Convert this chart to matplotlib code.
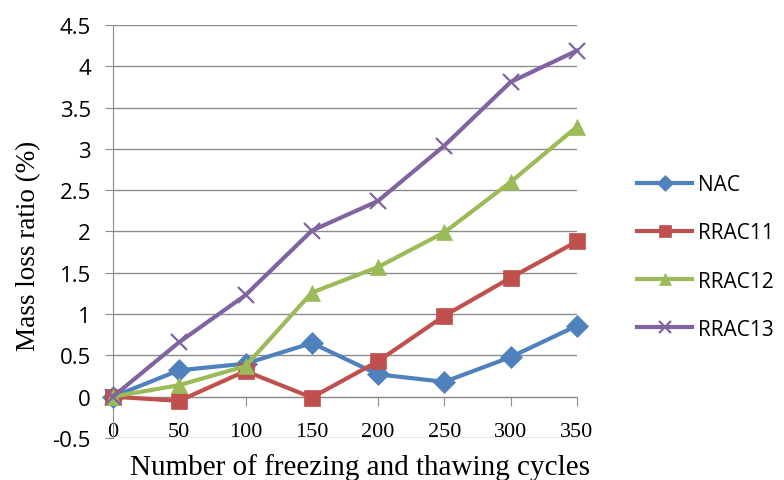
import matplotlib.pyplot as plt

# =========================
# data
# =========================
cycles = [0, 50, 100, 150, 200, 250, 300, 350]
nac = [0, 0.32, 0.40, 0.65, 0.27, 0.18, 0.48, 0.86]
rrac11 = [0, -0.05, 0.31, -0.01, 0.43, 0.98, 1.44, 1.88]
rrac12 = [0, 0.14, 0.37, 1.26, 1.57, 1.99, 2.60, 3.27]
rrac13 = [0, 0.66, 1.23, 2.01, 2.37, 3.04, 3.81, 4.19]
y_ticks = [-0.5, 0, 0.5, 1, 1.5, 2, 2.5, 3, 3.5, 4, 4.5]
y_labels = ['-0.5', '0', '0.5', '1', '1.5', '2', '2.5', '3', '3.5', '4', '4.5']

series = [
    ('NAC', nac, '#4F81BD', 'D', 11),
    ('RRAC11', rrac11, '#C0504D', 's', 11),
    ('RRAC12', rrac12, '#9BBB59', '^', 12),
    ('RRAC13', rrac13, '#8064A2', 'x', 12),
]

# =========================
# plot
# =========================
fig = plt.figure(figsize=(7.84, 4.81), dpi=100)
ax = fig.add_axes([0.144, 0.0873, 0.592, 0.8587])

for name, vals, col, mk, ms in series:
    ax.plot(cycles, vals, color=col, lw=3, marker=mk, markersize=ms,
            markeredgewidth=1.6 if mk == 'x' else 0.5, markeredgecolor=col,
            label=name, clip_on=False, zorder=3)

ax.set_xlim(0, 350)
ax.set_ylim(-0.5, 4.5)
ax.set_yticks(y_ticks)
ax.set_yticklabels(y_labels)
ax.set_xticks(cycles)
ax.grid(axis='y', color='#8c8c8c', lw=1)
ax.set_axisbelow(True)

for s in ['top', 'right']:
    ax.spines[s].set_visible(False)
ax.spines['left'].set_color('#8c8c8c')
ax.spines['bottom'].set_color('#8c8c8c')
ax.spines['bottom'].set_position(('data', 0))

ax.tick_params(axis='y', length=5.8, color='#8c8c8c', labelsize=16, pad=10)
ax.tick_params(axis='x', length=6.5, color='#8c8c8c', pad=12)
for lab in ax.get_yticklabels():
    lab.set_fontfamily('Open Sans')
for lab in ax.get_xticklabels():
    lab.set_fontfamily('Liberation Serif')
    lab.set_fontsize(16)

ax.set_xlabel('Number of freezing and thawing cycles', family='Liberation Serif',
              fontsize=21)
ax.set_ylabel('Mass loss ratio (%)', family='Liberation Serif', fontsize=19.5)
ax.xaxis.set_label_coords(0.532, -0.036)
ax.yaxis.set_label_coords(-0.155, 0.467)

fig.legend(*ax.get_legend_handles_labels(), loc='center left',
           bbox_to_anchor=(637 / 784, 1 - 258 / 481), frameon=False,
           prop={'family': 'Open Sans', 'size': 15}, handlelength=2.65,
           labelspacing=1.3, handletextpad=0.3, markerscale=0.75,
           borderpad=0, borderaxespad=0)

plt.savefig('out.png', dpi=100)
